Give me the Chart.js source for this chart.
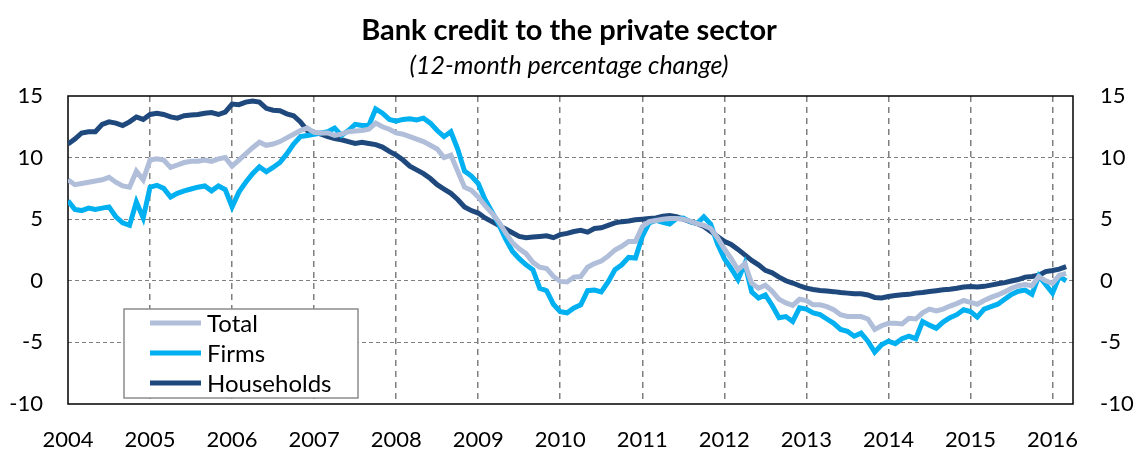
<!DOCTYPE html>
<html>
<head>
<title>Bank credit to the private sector</title>
<script src="https://cdn.jsdelivr.net/npm/chart.js@4.4.0/dist/chart.umd.min.js"></script>
<style>
body{margin:0;background:#fff;}
#wrap{width:1135px;height:450px;}
</style>
</head>
<body>
<div id="wrap"><canvas id="myChart" width="1135" height="450"></canvas></div>
<script>
// monthly 12-month % changes, Jan 2004 .. Mar 2016
var startYear = 2004;
var seriesNames = ['Total', 'Firms', 'Households'];
var seriesColors = ['#B0BEDA', '#00B0F0', '#1F497D'];

var total = [
  8.2, 7.8, 7.9, 8.0, 8.1, 8.2, 8.4, 8.0, 7.7, 7.6, 8.9, 8.2,
  9.8, 9.9, 9.8, 9.2, 9.4, 9.6, 9.7, 9.7, 9.8, 9.7, 9.9, 10.0,
  9.3, 9.8, 10.3, 10.8, 11.25, 11.0, 11.1, 11.3, 11.6, 11.9, 12.2, 12.4,
  12.05, 12.0, 12.0, 11.8, 11.9, 12.1, 12.15, 12.2, 12.3, 12.8, 12.5, 12.3,
  12.0, 11.9, 11.7, 11.5, 11.3, 11.0, 10.7, 10.0, 10.2, 8.9, 7.6, 7.35,
  6.8, 6.1, 5.5, 4.8, 3.9, 3.1, 2.6, 2.2, 1.5, 1.1, 1.0, 0.35,
  -0.05, -0.1, 0.3, 0.35, 1.1, 1.4, 1.6, 2.0, 2.5, 2.8, 3.2, 3.2,
  4.4, 4.8, 4.9, 5.0, 5.05, 5.05, 5.0, 4.85, 4.65, 4.5, 4.25, 3.5,
  2.6, 1.8, 0.9, 1.4, -0.2, -0.6, -0.35, -0.85, -1.5, -1.8, -2.0, -1.5,
  -1.6, -1.95, -1.95, -2.1, -2.35, -2.75, -2.9, -2.9, -2.9, -3.1, -3.95, -3.65,
  -3.45, -3.45, -3.5, -3.05, -3.1, -2.6, -2.3, -2.45, -2.3, -2.05, -1.85, -1.6,
  -1.75, -1.9, -1.6, -1.35, -1.15, -0.9, -0.6, -0.4, -0.3, -0.4, 0.35, 0.0,
  -0.2, 0.45, 0.6
];
var firms = [
  6.5, 5.8, 5.7, 5.9, 5.8, 5.9, 6.0, 5.2, 4.7, 4.5, 6.4, 5.1,
  7.6, 7.75, 7.5, 6.8, 7.1, 7.3, 7.45, 7.6, 7.7, 7.3, 7.7, 7.4,
  6.0, 7.2, 8.0, 8.7, 9.25, 8.85, 9.2, 9.6, 10.3, 11.1, 11.7, 11.8,
  11.9, 12.0, 12.1, 12.4, 11.8, 12.2, 12.7, 12.6, 12.6, 13.95, 13.6, 13.1,
  12.95, 13.1, 13.15, 13.05, 13.2, 12.8, 12.2, 11.7, 12.1, 10.7, 8.9, 8.5,
  7.9, 6.6, 5.6, 4.6, 3.4, 2.4, 1.8, 1.3, 0.9, -0.6, -0.8, -1.9,
  -2.5, -2.6, -2.2, -1.95, -0.8, -0.75, -0.9, -0.1, 0.9, 1.3, 1.9, 1.85,
  3.6, 4.7, 4.9, 4.75, 4.6, 5.05, 5.1, 4.8, 4.65, 5.2, 4.6, 3.0,
  1.8, 1.0, 0.1, 1.4, -0.9, -1.4, -1.15, -2.0, -3.0, -2.9, -3.3, -2.2,
  -2.3, -2.6, -2.75, -3.1, -3.45, -3.95, -4.1, -4.5, -4.25, -4.9, -5.8, -5.2,
  -4.9, -5.1, -4.7, -4.5, -4.7, -3.3, -3.6, -3.85, -3.35, -3.0, -2.75, -2.35,
  -2.5, -2.95, -2.3, -2.1, -1.9, -1.5, -1.1, -0.85, -0.75, -1.1, 0.4, -0.3,
  -1.0, 0.35, 0.0
];
var households = [
  11.1, 11.5, 12.0, 12.1, 12.1, 12.7, 12.9, 12.8, 12.6, 12.9, 13.3, 13.1,
  13.5, 13.6, 13.5, 13.3, 13.2, 13.4, 13.45, 13.5, 13.6, 13.65, 13.5, 13.7,
  14.35, 14.3, 14.5, 14.6, 14.5, 14.0, 13.85, 13.8, 13.55, 13.4, 12.9, 12.2,
  12.05, 11.9, 11.7, 11.55, 11.45, 11.3, 11.15, 11.25, 11.15, 11.05, 10.85, 10.5,
  10.2, 9.8, 9.3, 9.0, 8.7, 8.3, 7.8, 7.45, 7.1, 6.6, 6.0, 5.7,
  5.5, 5.1, 4.8, 4.5, 4.2, 3.9, 3.6, 3.5, 3.55, 3.6, 3.65, 3.5,
  3.75, 3.85, 4.0, 4.1, 3.95, 4.25, 4.3, 4.5, 4.7, 4.8, 4.85, 4.95,
  5.0, 5.05, 5.1, 5.25, 5.3, 5.2, 5.0, 4.8, 4.65, 4.4, 4.0, 3.6,
  3.2, 2.95, 2.55, 2.1, 1.65, 1.3, 0.85, 0.65, 0.3, 0.0, -0.18, -0.4,
  -0.6, -0.7, -0.78, -0.83, -0.88, -0.95, -1.0, -1.05, -1.05, -1.15, -1.35, -1.4,
  -1.27, -1.2, -1.14, -1.1, -1.0, -0.95, -0.87, -0.8, -0.73, -0.68, -0.6, -0.5,
  -0.46, -0.5, -0.45, -0.35, -0.24, -0.15, -0.02, 0.1, 0.3, 0.35, 0.45, 0.75,
  0.84, 0.95, 1.15
];

var xMin = 2004, xMax = 2016.25;
var yMin = -10, yMax = 15, yStep = 5;

function toPoints(arr){
    return arr.map(function(v, i){ return {x: startYear + i / 12, y: v}; });
}

var allSeries = [total, firms, households];
var datasets = allSeries.map(function(arr, i){
    return {
        label: seriesNames[i],
        data: toPoints(arr),
        borderColor: seriesColors[i],
        borderWidth: 5,
        pointRadius: 0,
        tension: 0,
        fill: false
    };
});

var FONT = 'Lato, "Open Sans", sans-serif';

var extras = {
    id: 'extras',
    beforeDatasetsDraw: function(chart){
        var c = chart.ctx, a = chart.chartArea;
        c.save();
        c.strokeStyle = '#000';
        c.lineWidth = 1.5;
        c.strokeRect(a.left, a.top, a.right - a.left, a.bottom - a.top);
        c.restore();
    },
    afterDraw: function(chart){
        var c = chart.ctx;
        c.save();
        c.fillStyle = '#000';
        c.textAlign = 'center';
        c.textBaseline = 'middle';
        c.font = 'bold 29px ' + FONT;
        c.fillText('Bank credit to the private sector', 569, 31);
        c.font = 'italic 25px ' + FONT;
        c.fillText('(12-month percentage change)', 569, 66);

        // legend box inside the plot
        c.fillStyle = '#fff';
        c.fillRect(124, 309, 234, 89);
        c.strokeStyle = '#8c8c8c';
        c.lineWidth = 1.5;
        c.strokeRect(124, 309, 234, 89);
        c.textAlign = 'left';
        c.font = '24px ' + FONT;
        chart.data.datasets.forEach(function(ds, i){
            var y = 323 + i * 30;
            c.strokeStyle = ds.borderColor;
            c.lineWidth = 5;
            c.beginPath();
            c.moveTo(150, y);
            c.lineTo(201, y);
            c.stroke();
            c.fillStyle = '#000';
            c.fillText(ds.label, 207, y + 1);
        });
        c.restore();
    }
};

var ctx = document.getElementById('myChart').getContext('2d');
var myChart = new Chart(ctx, {
    type: 'line',
    data: {datasets: datasets},
    plugins: [extras],
    options: {
        responsive: false,
        animation: false,
        layout: {padding: {top: 96, right: 0, bottom: 0, left: 0}},
        plugins: {legend: {display: false}, title: {display: false}, tooltip: {enabled: false}},
        scales: {
            x: {
                type: 'linear',
                min: xMin, max: xMax,
                afterFit: function(s){ s.height = 46; },
                grid: {
                    color: function(c){ return c.tick && c.tick.value === xMin ? 'rgba(0,0,0,0)' : '#7f7f7f'; },
                    lineWidth: 1.5,
                    drawTicks: false
                },
                border: {display: false, dash: [6, 5]},
                ticks: {
                    stepSize: 1, includeBounds: false, padding: 23, maxRotation: 0, autoSkip: false,
                    color: '#000', font: {family: FONT, size: 22},
                    callback: function(v){ return String(v); }
                }
            },
            y: {
                position: 'left',
                min: yMin, max: yMax,
                afterFit: function(s){ s.width = 68; },
                grid: {
                    color: function(c){ return (c.tick.value === yMin || c.tick.value === yMax) ? 'rgba(0,0,0,0)' : '#7f7f7f'; },
                    lineWidth: 1,
                    drawTicks: false
                },
                border: {display: false, dash: [4, 3]},
                ticks: {stepSize: yStep, padding: 25, color: '#000', font: {family: FONT, size: 22}}
            },
            y2: {
                position: 'right',
                min: yMin, max: yMax,
                afterFit: function(s){ s.width = 62; },
                grid: {display: false, drawTicks: false},
                border: {display: false},
                ticks: {stepSize: yStep, padding: 27, color: '#000', font: {family: FONT, size: 22}}
            }
        }
    }
});
</script>
</body>
</html>
